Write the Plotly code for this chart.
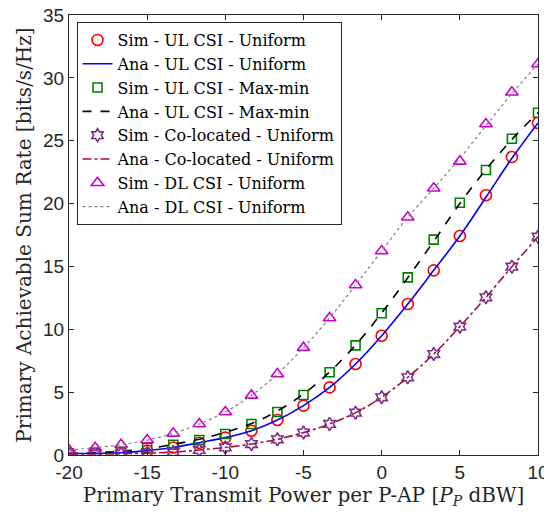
import plotly.graph_objects as go

# Transmit power (dBW)
x_power = [-20, -18.33, -16.67, -15, -13.33, -11.67, -10, -8.33, -6.67, -5,
           -3.33, -1.67, 0, 1.67, 3.33, 5, 6.67, 8.33, 10]

sim_ul_uniform = [0.13, 0.13, 0.18, 0.35, 0.6, 0.98, 1.38, 1.93, 2.78, 3.93,
                  5.38, 7.24, 9.49, 12.01, 14.69, 17.42, 20.66, 23.7, 26.41]
ana_ul_uniform = [0.13, 0.13, 0.18, 0.35, 0.6, 0.98, 1.38, 1.93, 2.78, 3.93,
                  5.38, 7.24, 9.49, 12.01, 14.69, 17.42, 20.5, 23.6, 26.41]

sim_ul_maxmin = [0.13, 0.18, 0.26, 0.58, 0.82, 1.19, 1.67, 2.47, 3.42, 4.77,
                 6.58, 8.72, 11.27, 14.13, 17.13, 20.07, 22.67, 25.16, 27.23]
ana_ul_maxmin = [0.13, 0.18, 0.3, 0.5, 0.85, 1.25, 1.8, 2.5, 3.5, 4.85,
                 6.6, 8.75, 11.3, 14.1, 17.0, 20.0, 22.7, 25.1, 27.23]

sim_coloc = [0.08, 0.08, 0.1, 0.15, 0.23, 0.4, 0.6, 0.87, 1.25, 1.78,
             2.47, 3.37, 4.59, 6.18, 8.03, 10.21, 12.54, 14.98, 17.37]
ana_coloc = [0.08, 0.08, 0.1, 0.15, 0.23, 0.4, 0.6, 0.87, 1.25, 1.78,
             2.47, 3.37, 4.59, 6.18, 8.03, 10.21, 12.54, 14.98, 17.37]

sim_dl = [0.4, 0.58, 0.82, 1.19, 1.72, 2.47, 3.42, 4.74, 6.44, 8.54,
          10.9, 13.52, 16.23, 18.91, 21.22, 23.36, 26.33, 28.85, 31.1]
ana_dl = [0.4, 0.58, 0.82, 1.19, 1.72, 2.47, 3.42, 4.74, 6.44, 8.54,
          10.9, 13.52, 16.23, 18.91, 21.22, 23.6, 26.2, 28.75, 31.1]

x_ticks = [-20, -15, -10, -5, 0, 5, 10]
y_ticks = [0, 5, 10, 15, 20, 25, 30, 35]

SERIF = "DejaVu Serif, serif"
SANS = "Liberation Sans, Arial, sans-serif"

fig = go.Figure()

def sim(y, name, symbol, color, size=10):
    fig.add_trace(go.Scatter(x=x_power, y=y, name=name, mode="markers",
                             marker=dict(symbol=symbol, size=size, color=color,
                                         line=dict(color=color, width=1.6))))

def ana(y, name, color, dash, width=1.6):
    fig.add_trace(go.Scatter(x=x_power, y=y, name=name, mode="lines",
                             line=dict(color=color, dash=dash, width=width, shape="spline")))

sim(sim_ul_uniform, "Sim - UL CSI - Uniform", "circle-open", "#ff0000", 11)
ana(ana_ul_uniform, "Ana - UL CSI - Uniform", "#0000ff", "solid")
sim(sim_ul_maxmin, "Sim - UL CSI - Max-min", "square-open", "#008000", 9)
ana(ana_ul_maxmin, "Ana - UL CSI - Max-min", "#000000", "dash")
sim(sim_coloc, "Sim - Co-located - Uniform", "hexagram-open", "#7E2F8E", 10)
ana(ana_coloc, "Ana - Co-located - Uniform", "#A2142F", "dashdot")
sim(sim_dl, "Sim - DL CSI - Uniform", "triangle-up-open", "#cc00cc", 11)
ana(ana_dl, "Ana - DL CSI - Uniform", "#808080", "dot", 1.2)

axis_common = dict(showline=True, linecolor="#262626", linewidth=1, mirror="ticks",
                   ticks="inside", ticklen=5, tickcolor="#262626", showgrid=False,
                   zeroline=False, automargin=False, ticklabeloverflow="allow",
                   tickfont=dict(family=SANS, size=19, color="#262626"))

# The page body adds an 8px offset, so the figure is 8px smaller than the window
fig.update_layout(
    width=544, height=504,
    margin=dict(l=61, r=14, t=7, b=57),
    paper_bgcolor="white", plot_bgcolor="white",
    showlegend=True,
    legend=dict(x=0.016, y=0.984, xanchor="left", yanchor="top",
                bgcolor="white", bordercolor="#262626", borderwidth=1,
                font=dict(family=SERIF, size=16, color="#000"),
                tracegroupgap=0, itemwidth=30),
    xaxis=dict(range=[-20, 10], tickvals=x_ticks, ticktext=[str(v) for v in x_ticks],
               title=dict(text="Primary Transmit Power per P-AP [<i>P<sub>P</sub></i> dBW]",
                          font=dict(family=SERIF, size=20, color="#262626"),
                          standoff=4),
               **axis_common),
    yaxis=dict(range=[0, 35], tickvals=y_ticks, ticktext=[str(v) for v in y_ticks],
               title=dict(text="Primary Achievable Sum Rate [bits/s/Hz]",
                          font=dict(family=SERIF, size=20, color="#262626"),
                          standoff=6),
               **axis_common),
)

fig.write_html("out.html")
